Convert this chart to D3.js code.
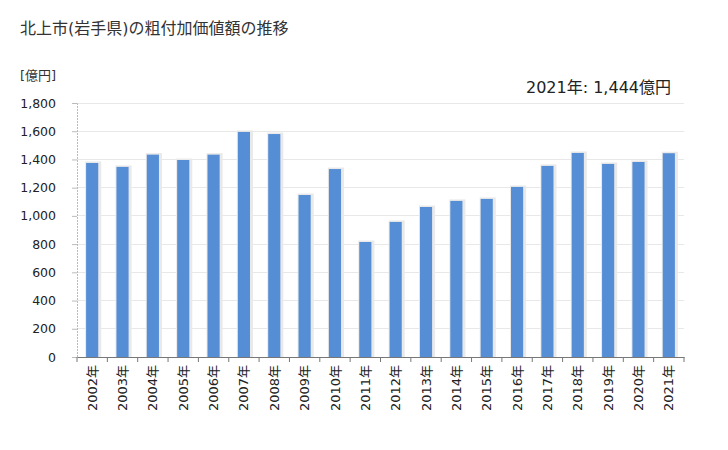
<!DOCTYPE html>
<html><head><meta charset="utf-8">
<script src="https://cdn.jsdelivr.net/npm/d3@7"></script>
<style>body{margin:0;background:#fff}svg{display:block}</style>
</head><body>
<script>
const years = ["2002年","2003年","2004年","2005年","2006年","2007年","2008年","2009年","2010年","2011年","2012年","2013年","2014年","2015年","2016年","2017年","2018年","2019年","2020年","2021年"];
const values = [1375,1347,1434,1396,1434,1595,1580,1148,1332,815,957,1063,1106,1120,1205,1354,1446,1368,1382,1444];
const yTicks = [0,200,400,600,800,1000,1200,1400,1600,1800];
const title = "北上市(岩手県)の粗付加価値額の推移";
const unitLabel = "[億円]";
const annotation = "2021年: 1,444億円";

const W=728,H=450;
const font = '"DejaVu Sans","Noto Sans CJK JP",sans-serif';
const m={left:77,right:44,top:103,bottom:93};
const svg=d3.select("body").append("svg").attr("width",W).attr("height",H).style("font-family",font);
const x=d3.scaleBand().domain(years).range([m.left,W-m.right]).paddingInner(0.6).paddingOuter(0.3);
const xb=d3.scaleBand().domain(years).range([m.left,W-m.right]);
const y=d3.scaleLinear().domain([0,1800]).range([H-m.bottom,m.top]);

// gridlines
svg.append("g").selectAll("line").data(yTicks.slice(1)).join("line")
 .attr("x1",m.left).attr("x2",W-m.right).attr("y1",d=>y(d)).attr("y2",d=>y(d))
 .attr("stroke","#e8e8e8").attr("stroke-width",1).attr("shape-rendering","crispEdges");

// shadows
svg.append("g").selectAll("rect").data(values).join("rect")
 .attr("x",(d,i)=>x(years[i])-1).attr("y",d=>y(d)-1.5).attr("width",x.bandwidth()+4)
 .attr("height",d=>y(0)-y(d)+1.5).attr("fill","#e9e9e9");
// bars
svg.append("g").selectAll("rect").data(values).join("rect")
 .attr("x",(d,i)=>x(years[i])).attr("y",d=>y(d)).attr("width",x.bandwidth())
 .attr("height",d=>y(0)-y(d)).attr("fill","#558ed5");

// y axis
const ya=svg.append("g").attr("transform",`translate(${m.left},0)`)
 .call(d3.axisLeft(y).tickValues(yTicks).tickFormat(d3.format(",")).tickSize(5).tickPadding(16));
ya.select(".domain").attr("stroke","#bbb").attr("stroke-dasharray","2,1");
ya.selectAll(".tick line").attr("stroke","#bbb");
ya.selectAll("text").attr("font-size",12.5).attr("fill","#222").style("font-family",font);

// x axis
const xa=svg.append("g").attr("transform",`translate(0,${H-m.bottom})`)
 .call(d3.axisBottom(xb).tickSize(0).tickPadding(0));
xa.select(".domain").attr("stroke","#777");
xa.selectAll(".tick text").attr("transform","rotate(-90)").attr("text-anchor","end")
 .attr("dx","-8").attr("dy","0.35em").attr("y",0).attr("x",0)
 .attr("font-size",13).attr("fill","#222").style("font-family",font);
// boundary ticks
svg.append("g").selectAll("line").data(years.concat(["end"])).join("line")
 .attr("x1",(d,i)=>m.left+i*xb.step()).attr("x2",(d,i)=>m.left+i*xb.step())
 .attr("y1",H-m.bottom).attr("y2",H-m.bottom+5).attr("stroke","#777");

svg.append("text").attr("x",20).attr("y",34).attr("font-size",16).attr("fill","#333").text(title);
svg.append("text").attr("x",20).attr("y",80).attr("font-size",13).attr("fill","#333").text(unitLabel);
svg.append("text").attr("x",671).attr("y",93).attr("text-anchor","end").attr("font-size",16).attr("fill","#222").text(annotation);
</script>
</body></html>
